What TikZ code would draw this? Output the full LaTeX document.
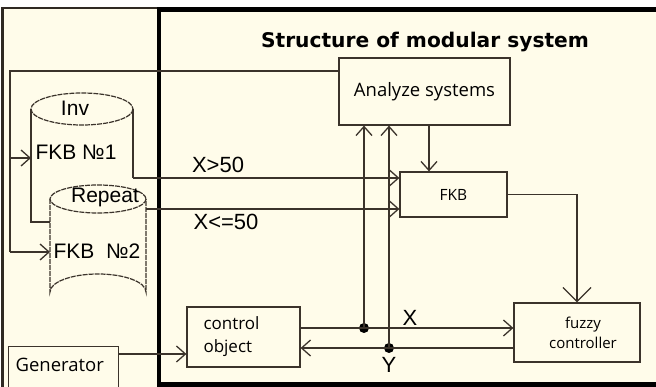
\documentclass[tikz,border=0pt]{standalone}
\usepackage{fontspec}
\setmainfont{Liberation Sans}
\newfontfamily\titlefont{DejaVu Sans}
\newfontfamily\boxfont{Open Sans}
\usetikzlibrary{positioning,arrows.meta}
\definecolor{paper}{HTML}{FFFCEA}
\definecolor{ink}{HTML}{3B332B}

\begin{document}
\begin{tikzpicture}[
    x=1pt, y=-1pt,
    line width=1.2pt,
    box/.style={rectangle, draw=ink, fill=paper, inner sep=0pt, font=\boxfont\fontsize{18.5}{22}\selectfont},
    wire/.style={draw=ink, line width=1.3pt},
    arrow/.style={wire, -{Straight Barb[length=9pt,width=16pt]}},
    bigarrow/.style={wire, -{Straight Barb[length=14pt,width=28pt]}},
    cylline/.style={draw=ink, line width=1.2pt, dash pattern=on 5pt off 1pt},
    tag/.style={font=\fontsize{21}{24}\selectfont, inner sep=0pt},
    sigtag/.style={font=\fontsize{22}{24}\selectfont, inner sep=0pt},
    dot/.style={circle, fill=black, inner sep=0pt, minimum size=10pt}
  ]
    \useasboundingbox (0,0) rectangle (656,387);
    \clip (0,0) rectangle (656,387);
    \fill[white] (0,0) rectangle (656,387);

    % Panels
    \draw[fill=paper, draw=ink!80!black, line width=2.5pt] (2.5,8) rectangle (159,400);
    \draw[fill=paper, draw=black, line width=4.5pt] (159,9.5) rectangle (680,384.5);
    \node[font=\titlefont\bfseries\fontsize{20.2}{24}\selectfont, inner sep=0pt] (title) at (425,42) {Structure of modular system};

    % Blocks
    \node[box, minimum width=171pt, minimum height=67pt] (analyze) at (424.5,91.5) {Analyze systems};
    \node[box, minimum width=107pt, minimum height=45pt, font=\boxfont\fontsize{15.5}{18}\selectfont] (fkb) at (453.5,194.5) {FKB};
    \node[box, minimum width=113pt, minimum height=60pt, text width=80pt, align=left, font=\boxfont\fontsize{17}{23}\selectfont] (ctrl) at (243.5,337) {control\\object};
    \node[box, minimum width=126pt, minimum height=59pt, align=center, font=\boxfont\fontsize{15}{20}\selectfont] (fuzzy) at (577,332.5) {\hspace*{12pt}fuzzy\\\hspace*{12pt}controller};
    \node[box, anchor=north west, minimum height=54pt, text width=96pt, inner xsep=7pt, align=left, text depth=17pt] (gen) at (8,346) {Generator};

    % Knowledge bases
    \draw[cylline] (82,109) ellipse [x radius=51, y radius=16];
    \draw[wire] (31,109) -- (31,222) -- (50,222);
    \draw[wire] (133,109) -- (133,178) coordinate (kbone);
    \draw[cylline, fill=paper] (50,199) -- (50,292) arc[start angle=180, end angle=360, x radius=48, y radius=18] -- (146,199);
    \draw[cylline, fill=paper] (98,199) ellipse [x radius=48, y radius=14];
    \coordinate (kbtwo) at (146,209);
    \node[tag] (inv) at (75,108) {Inv};
    \node[tag] (fkbone) at (76,152) {FKB №1};
    \node[tag] (repeat) at (105,197) {Repeat};
    \node[tag] (fkbtwo) at (97,251) {FKB~~№2};

    % Feed from analysis to the bases
    \coordinate (bus) at (10,71);
    \coordinate (toone) at (31,158);
    \coordinate (totwo) at (50,252);
    \draw[wire] (analyze.west |- bus) -- (bus) -- (bus |- totwo);
    \draw[arrow] (bus |- totwo) -- (totwo);
    \draw[arrow] (bus |- toone) -- (toone);

    % Rule selection
    \draw[arrow] (kbone) -- (kbone -| fkb.west);
    \draw[arrow] (kbtwo) -- (kbtwo -| fkb.west);
    \node[sigtag] (gt) at (218,165) {X>50};
    \node[sigtag] (le) at (226,222) {X<=50};

    % Control loop
    \coordinate (xout) at ([yshift=9pt]ctrl.east);
    \coordinate (yin) at ([yshift=-11pt]ctrl.east);
    \node[dot] (xtap) at (364,328) {};
    \node[dot] (ytap) at (389,348) {};
    \draw[arrow] (xout) -- (xout -| fuzzy.west);
    \draw[arrow] (yin -| fuzzy.west) -- (yin);
    \draw[arrow] (xtap.center) -- (xtap |- analyze.south);
    \draw[arrow] (ytap.center) -- (ytap |- analyze.south);
    \node[sigtag] (xlab) at (410,318) {X};
    \node[sigtag] (ylab) at (389,365) {Y};

    \draw[arrow] ([xshift=4.5pt]analyze.south) -- ([xshift=4.5pt]analyze.south |- fkb.north);
    \draw[bigarrow] (fkb.east) -| (fuzzy.north);

    \coordinate (ctrlin) at ([yshift=-17pt]ctrl.west);
    \draw[arrow] (gen.east |- ctrlin) -- (ctrlin);
  \end{tikzpicture}
\end{document}
